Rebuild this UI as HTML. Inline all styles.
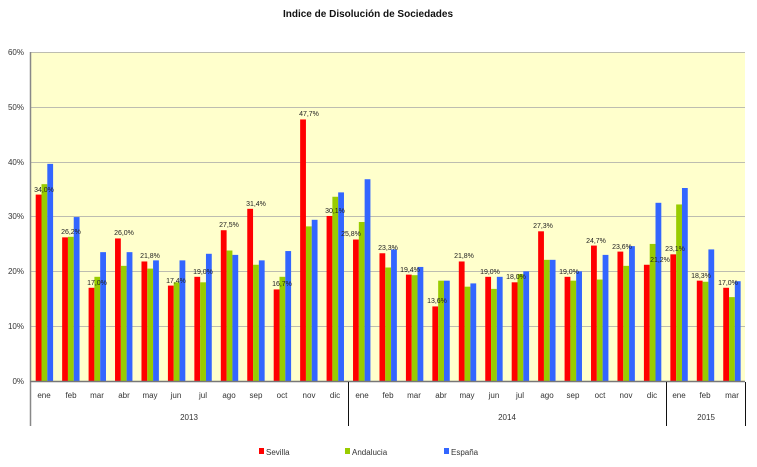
<!DOCTYPE html>
<html><head><meta charset="utf-8"><style>
html,body{margin:0;padding:0;background:#fff;}
svg{display:block;font-family:"Liberation Sans",sans-serif;}
</style></head><body>
<svg id="c" width="757" height="467" viewBox="0 0 757 467">
<text x="368" y="17" font-size="10" font-weight="bold" text-anchor="middle" fill="#111">Indice de Disolución de Sociedades</text>
<rect x="31" y="52" width="714" height="329" fill="#ffffcc"/>
<g stroke="#bdbdb0" stroke-width="1">
<line x1="31" y1="52.5" x2="745" y2="52.5"/>
<line x1="31" y1="107.5" x2="745" y2="107.5"/>
<line x1="31" y1="162.5" x2="745" y2="162.5"/>
<line x1="31" y1="216.5" x2="745" y2="216.5"/>
<line x1="31" y1="271.5" x2="745" y2="271.5"/>
<line x1="31" y1="326.5" x2="745" y2="326.5"/>
</g>
<g id="bars"></g>
<line x1="30.5" y1="52" x2="30.5" y2="426" stroke="#888" stroke-width="1.5"/>
<line x1="30" y1="381.5" x2="745" y2="381.5" stroke="#777" stroke-width="1.5"/>
<g stroke="#111" stroke-width="1">
<line x1="348.5" y1="382" x2="348.5" y2="426"/>
<line x1="666.5" y1="382" x2="666.5" y2="426"/>
<line x1="745.5" y1="382" x2="745.5" y2="426"/>
</g>
<g font-size="8" fill="#333" text-anchor="end">
<text x="24" y="55">60%</text><text x="24" y="110">50%</text><text x="24" y="165">40%</text>
<text x="24" y="219">30%</text><text x="24" y="274">20%</text><text x="24" y="329">10%</text><text x="24" y="384">0%</text>
</g>
<g font-size="8" fill="#333" text-anchor="middle">
<text x="44" y="398">ene</text><text x="71" y="398">feb</text><text x="97" y="398">mar</text><text x="124" y="398">abr</text><text x="150" y="398">may</text><text x="176" y="398">jun</text><text x="203" y="398">jul</text><text x="229" y="398">ago</text><text x="256" y="398">sep</text><text x="282" y="398">oct</text><text x="309" y="398">nov</text><text x="335" y="398">dic</text>
<text x="362" y="398">ene</text><text x="388" y="398">feb</text><text x="414" y="398">mar</text><text x="441" y="398">abr</text><text x="467" y="398">may</text><text x="494" y="398">jun</text><text x="520" y="398">jul</text><text x="547" y="398">ago</text><text x="573" y="398">sep</text><text x="600" y="398">oct</text><text x="626" y="398">nov</text><text x="652" y="398">dic</text>
<text x="679" y="398">ene</text><text x="705" y="398">feb</text><text x="732" y="398">mar</text>
<text x="189" y="420">2013</text><text x="507" y="420">2014</text><text x="706" y="420">2015</text>
</g>
<g font-size="7" fill="#222" text-anchor="middle">
<text x="44" y="192">34,0%</text><text x="71" y="234">26,2%</text><text x="97" y="285">17,0%</text><text x="124" y="235">26,0%</text><text x="150" y="258">21,8%</text><text x="176" y="283">17,4%</text><text x="203" y="274">19,0%</text><text x="229" y="227">27,5%</text><text x="256" y="206">31,4%</text><text x="282" y="286">16,7%</text><text x="309" y="116">47,7%</text><text x="335" y="213">30,1%</text>
<text x="351" y="236">25,8%</text><text x="388" y="250">23,3%</text><text x="410" y="272">19,4%</text><text x="437" y="303">13,6%</text><text x="464" y="258">21,8%</text><text x="490" y="274">19,0%</text><text x="516" y="279">18,0%</text><text x="543" y="228">27,3%</text><text x="569" y="274">19,0%</text><text x="596" y="243">24,7%</text><text x="622" y="249">23,6%</text><text x="660" y="262">21,2%</text>
<text x="675" y="251">23,1%</text><text x="701" y="278">18,3%</text><text x="728" y="285">17,0%</text>
</g>
<rect x="259" y="448" width="5" height="6" fill="#ff0000"/>
<rect x="345" y="448" width="5" height="6" fill="#99cc00"/>
<rect x="444" y="448" width="5" height="6" fill="#3366ff"/>
<g font-size="8" fill="#333">
<text x="266" y="455">Sevilla</text><text x="352" y="455">Andalucia</text><text x="451" y="455">España</text>
</g>
</svg>
<script>
var d=[[34.0,35.9,39.6],[26.2,26.3,29.9],[17.0,19.0,23.5],[26.0,21.0,23.5],[21.8,20.5,22.0],[17.4,18.0,22.0],[19.0,18.0,23.2],[27.5,23.8,23.0],[31.4,21.2,22.0],[16.7,19.0,23.7],[47.7,28.2,29.4],[30.1,33.6,34.4],
[25.8,29.0,36.8],[23.3,20.7,24.0],[19.4,19.3,20.8],[13.6,18.3,18.3],[21.8,17.2,17.8],[19.0,16.8,19.0],[18.0,19.5,20.0],[27.3,22.1,22.1],[19.0,18.3,20.0],[24.7,18.5,23.0],[23.6,21.0,24.6],[21.2,25.0,32.5],
[23.1,32.2,35.2],[18.3,18.1,24.0],[17.0,15.3,18.2]];
var c=["#ff0000","#99cc00","#3366ff"],s="";
for(var i=0;i<d.length;i++){var x0=31+i*26.444+4.7;for(var j=0;j<3;j++){var h=d[i][j]*5.483;s+='<rect x="'+(x0+j*5.8).toFixed(2)+'" y="'+(381-h).toFixed(2)+'" width="5.8" height="'+h.toFixed(2)+'" fill="'+c[j]+'"/>';}}
document.getElementById("bars").innerHTML=s;
</script>
</body></html>
